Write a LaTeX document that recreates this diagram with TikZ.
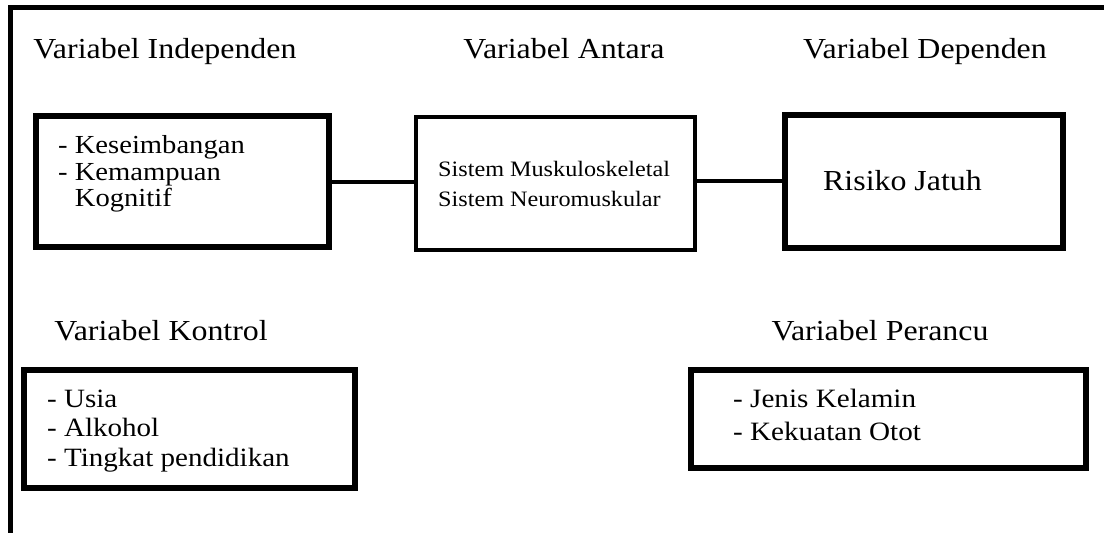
\documentclass[tikz,border=0pt]{standalone}
\usepackage{fontspec}
\setmainfont{Liberation Serif}[FakeStretch=1.1]
\begin{document}
\begin{tikzpicture}[x=1bp,y=-1bp,
  frameline/.style={line width=5bp},
  thickbox/.style={draw,line width=6bp,rectangle,inner sep=0pt},
  thinbox/.style={draw,line width=4bp,rectangle,inner sep=0pt},
  link/.style={line width=4bp},
  heading/.style={font=\fontsize{29bp}{34bp}\selectfont,inner sep=0pt,anchor=base},
  listtext/.style={align=left,inner sep=0pt,anchor=base west}
]
\useasboundingbox (0,0) rectangle (1104,533);
% frame
\coordinate (ftr) at (1104,7.5);
\coordinate (fbl) at (10.5,533);
\draw[frameline] (fbl) -- (fbl |- ftr) -- (ftr);

% headings
\node[heading] (hind) at (165,59) {Variabel Independen};
\node[heading] (hant) at (564,59) {Variabel Antara};
\node[heading] (hdep) at (925,59) {Variabel Dependen};
\node[heading] (hkon) at (161,341) {Variabel Kontrol};
\node[heading] (hper) at (880,341) {Variabel Perancu};

% boxes
\node[thickbox,minimum width=293bp,minimum height=131bp] (bind) at (182.5,181.5) {};
\node[thinbox,minimum width=279bp,minimum height=133bp] (bant) at (555.5,183.5) {};
\node[thickbox,minimum width=278bp,minimum height=133bp] (bdep) at (924,181.5) {};
\node[thickbox,minimum width=331bp,minimum height=118bp] (bkon) at (189.5,429) {};
\node[thickbox,line width=5.5bp,minimum width=395bp,minimum height=98bp] (bper) at (888.5,419) {};

% box texts (anchored at the baseline of the last line)
\node[listtext,font=\fontsize{26bp}{26.5bp}\selectfont] (tind) at (58,207)
  {- Keseimbangan\\- Kemampuan\\\phantom{- }Kognitif};
\node[listtext,font=\fontsize{22bp}{30bp}\selectfont] (tant) at (438,207)
  {Sistem Muskuloskeletal\\Sistem Neuromuskular};
\node[listtext,font=\fontsize{29bp}{34bp}\selectfont] (tdep) at (823,191) {Risiko Jatuh};
\node[listtext,font=\fontsize{26.4bp}{29.5bp}\selectfont] (tkon) at (47,466)
  {- Usia\\- Alkohol\\- Tingkat pendidikan};
\node[listtext,font=\fontsize{26.5bp}{33bp}\selectfont] (tper) at (733,440)
  {- Jenis Kelamin\\- Kekuatan Otot};

% connectors
\draw[link] (bind.east |- 0,182) -- (bant.west |- 0,182);
\draw[link] (bant.east |- bdep.west) -- (bdep.west);
\end{tikzpicture}
\end{document}
